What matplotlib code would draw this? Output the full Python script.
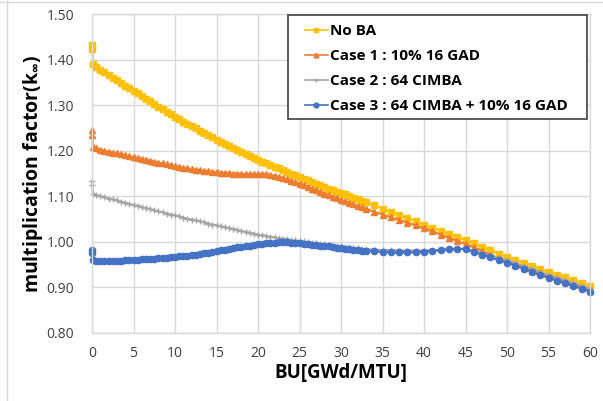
import matplotlib
matplotlib.use("Agg")
import matplotlib.pyplot as plt
from matplotlib.lines import Line2D
from matplotlib.patches import Rectangle

plt.rcParams['font.family'] = ['Open Sans', 'DejaVu Sans']
plt.rcParams['mathtext.fontset'] = 'custom'
plt.rcParams['mathtext.rm'] = 'Open Sans'
plt.rcParams['mathtext.bf'] = 'Open Sans:bold'

# burnup steps [GWd/MTU]
burnup = [0, 0.05, 0.1,
          0.5, 1, 1.5, 2, 2.5, 3, 3.5, 4, 4.5, 5,
          5.5, 6, 6.5, 7, 7.5, 8, 8.5, 9, 9.5, 10,
          10.5, 11, 11.5, 12, 12.5, 13, 13.5, 14, 14.5, 15,
          15.5, 16, 16.5, 17, 17.5, 18, 18.5, 19, 19.5, 20,
          20.5, 21, 21.5, 22, 22.5, 23, 23.5, 24, 24.5, 25,
          25.5, 26, 26.5, 27, 27.5, 28, 28.5, 29, 29.5, 30,
          30.5, 31, 31.5, 32, 32.5, 33,
          34, 35, 36, 37, 38, 39, 40,
          41, 42, 43, 44, 45,
          46, 47, 48, 49, 50,
          51, 52, 53, 54, 55,
          56, 57, 58, 59, 60]

k_no_ba = [1.432, 1.423, 1.390,
           1.384, 1.378, 1.372, 1.366, 1.360, 1.355, 1.349, 1.343, 1.338, 1.332,
           1.326, 1.320, 1.314, 1.308, 1.302, 1.297, 1.291, 1.285, 1.280, 1.274,
           1.269, 1.264, 1.259, 1.254, 1.249, 1.244, 1.239, 1.234, 1.229, 1.224,
           1.219, 1.215, 1.210, 1.206, 1.202, 1.197, 1.193, 1.189, 1.184, 1.180,
           1.176, 1.172, 1.168, 1.165, 1.161, 1.157, 1.153, 1.149, 1.146, 1.142,
           1.138, 1.135, 1.131, 1.128, 1.124, 1.121, 1.117, 1.114, 1.110, 1.107,
           1.104, 1.100, 1.097, 1.093, 1.090, 1.087,
           1.080, 1.073, 1.066, 1.059, 1.052, 1.045, 1.038,
           1.031, 1.024, 1.018, 1.011, 1.004,
           0.997, 0.989, 0.982, 0.974, 0.967,
           0.960, 0.954, 0.947, 0.941, 0.934,
           0.928, 0.922, 0.916, 0.910, 0.904]

k_case1 = [1.246, 1.234, 1.208,
           1.205, 1.202, 1.200, 1.198, 1.196, 1.194, 1.192, 1.190, 1.188, 1.186,
           1.184, 1.182, 1.180, 1.178, 1.176, 1.174, 1.172, 1.170, 1.168, 1.166,
           1.164, 1.163, 1.161, 1.160, 1.158, 1.157, 1.156, 1.155, 1.154, 1.153,
           1.152, 1.151, 1.151, 1.150, 1.150, 1.149, 1.149, 1.149, 1.149, 1.149,
           1.149, 1.148, 1.147, 1.145, 1.143, 1.140, 1.137, 1.134, 1.131, 1.128,
           1.124, 1.121, 1.117, 1.113, 1.110, 1.106, 1.103, 1.099, 1.096, 1.092,
           1.089, 1.086, 1.082, 1.079, 1.076, 1.073,
           1.066, 1.060, 1.054, 1.048, 1.042, 1.036, 1.030,
           1.023, 1.016, 1.009, 1.002, 0.995,
           0.988, 0.980, 0.972, 0.964, 0.957,
           0.950, 0.943, 0.937, 0.931, 0.925,
           0.919, 0.913, 0.907, 0.901, 0.895]

k_case2 = [1.134, 1.124, 1.106,
           1.103, 1.100, 1.098, 1.095, 1.093, 1.091, 1.088, 1.086, 1.083, 1.081,
           1.079, 1.076, 1.074, 1.072, 1.069, 1.067, 1.065, 1.062, 1.060, 1.058,
           1.056, 1.053, 1.051, 1.049, 1.047, 1.045, 1.043, 1.040, 1.038, 1.036,
           1.034, 1.032, 1.030, 1.028, 1.026, 1.024, 1.022, 1.020, 1.018, 1.016,
           1.014, 1.013, 1.011, 1.010, 1.008, 1.007, 1.006, 1.004, 1.003, 1.002,
           1.001, 0.999, 0.998, 0.997, 0.996, 0.995, 0.993, 0.992, 0.991, 0.990,
           0.989, 0.988, 0.987, 0.986, 0.985, 0.984,
           0.983, 0.982, 0.982, 0.981, 0.981, 0.981, 0.981,
           0.981, 0.982, 0.983, 0.984, 0.985,
           0.980, 0.975, 0.970, 0.965, 0.960,
           0.954, 0.947, 0.941, 0.934, 0.928,
           0.922, 0.916, 0.910, 0.904, 0.898]

k_case3 = [0.982, 0.976, 0.960,
           0.958, 0.957, 0.957, 0.958, 0.958, 0.959, 0.959, 0.960, 0.960, 0.961,
           0.961, 0.962, 0.962, 0.963, 0.963, 0.964, 0.964, 0.965, 0.966, 0.966,
           0.968, 0.969, 0.970, 0.971, 0.972, 0.973, 0.975, 0.976, 0.978, 0.980,
           0.982, 0.983, 0.985, 0.986, 0.988, 0.989, 0.991, 0.992, 0.993, 0.995,
           0.996, 0.997, 0.998, 0.998, 0.999, 0.999, 0.999, 0.998, 0.998, 0.997,
           0.996, 0.995, 0.994, 0.993, 0.992, 0.991, 0.990, 0.988, 0.987, 0.986,
           0.985, 0.984, 0.983, 0.982, 0.981, 0.980,
           0.979, 0.978, 0.977, 0.977, 0.977, 0.977, 0.978,
           0.980, 0.982, 0.984, 0.985, 0.984,
           0.978, 0.972, 0.966, 0.960, 0.954,
           0.948, 0.941, 0.934, 0.927, 0.921,
           0.915, 0.909, 0.903, 0.897, 0.891]

labels = ['No BA', 'Case 1 : 10% 16 GAD', 'Case 2 : 64 CIMBA',
          'Case 3 : 64 CIMBA + 10% 16 GAD']
colors = ['#FFC000', '#ED7D31', '#A5A5A5', '#4472C4']
markers = ['s', '^', '+', 'o']
msizes = [4.5, 4.5, 5, 4.5]

W, H = 603, 401
fig = plt.figure(figsize=(W / 100, H / 100), dpi=100)
ax = fig.add_axes([92 / W, 1 - 333 / H, 498 / W, 319 / H])

series = [k_no_ba, k_case1, k_case2, k_case3]
for k, lab, c, m, ms in zip(series, labels, colors, markers, msizes):
    ax.plot(burnup, k, color=c, marker=m, markersize=ms, lw=1.5,
            markeredgewidth=1, label=lab, clip_on=False)

ax.set_xlim(0, 60)
ax.set_ylim(0.80, 1.50)
ax.set_xticks(range(0, 61, 5))
ax.set_yticks([0.8, 0.9, 1.0, 1.1, 1.2, 1.3, 1.4, 1.5])
ax.set_yticklabels(['%.2f' % v for v in ax.get_yticks()])
ax.tick_params(length=0, labelsize=10, colors='#404040')
ax.tick_params(axis='x', pad=9.5)
ax.tick_params(axis='y', pad=13)
ax.grid(True, color='#D9D9D9', lw=1)
ax.set_axisbelow(True)
for s in ax.spines.values():
    s.set_color('#D9D9D9')
    s.set_linewidth(1)

ax.set_xlabel('BU[GWd/MTU]', fontsize=13.5, fontweight='bold', labelpad=1)
ax.set_ylabel(r'multiplication factor(k$_{\mathbf{\infty}}$)', fontsize=14,
              fontweight='bold', labelpad=1)

# legend box, drawn separately so the side padding can be wider than the top
box = Rectangle((288 / W, 1 - 119 / H), 299 / W, 104 / H,
                transform=fig.transFigure, facecolor='white',
                edgecolor='#404040', lw=1.2, zorder=4)
ax.add_artist(box)
box.set_clip_on(False)

handles = [Line2D([], [], color=c, marker=m, markersize=3.5, lw=1.2)
           for c, m in zip(colors, markers)]
leg = ax.legend(handles, labels, loc='center left',
                bbox_to_anchor=(305 / W, 1 - 68.5 / H),
                bbox_transform=fig.transFigure, frameon=False,
                handlelength=1.5, handletextpad=0.15, labelspacing=0.72,
                borderpad=0, borderaxespad=0,
                prop={'weight': 'bold', 'size': 11})
leg.set_zorder(6)

# outer frame lines
fig.add_artist(Line2D([0, 1], [1 - 1.5 / H] * 2, color='#D9D9D9', lw=1))
fig.add_artist(Line2D([7 / W] * 2, [0, 1], color='#D9D9D9', lw=1))

fig.savefig('out.png', dpi=100)
